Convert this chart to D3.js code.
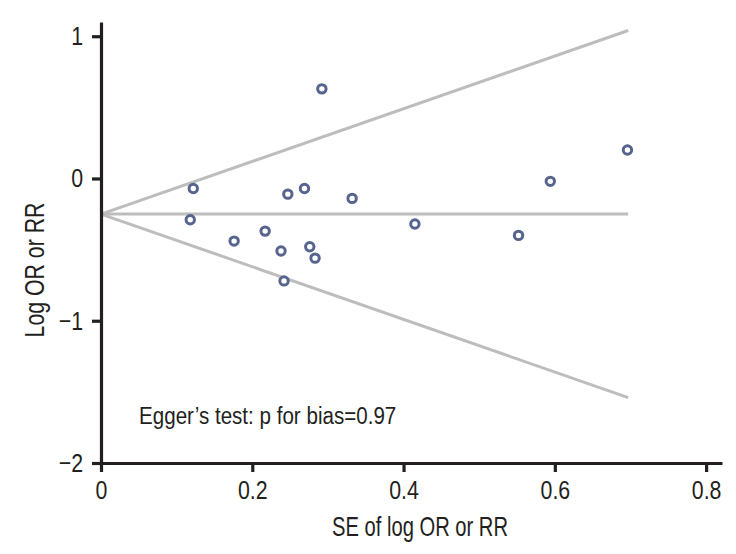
<!DOCTYPE html>
<html><head><meta charset="utf-8">
<script src="https://cdn.jsdelivr.net/npm/d3@7"></script>
<style>
body{margin:0;background:#fff;}
text{font-family:"Liberation Sans",Arial,sans-serif;fill:#231f20;}
</style></head>
<body>
<svg id="c" width="736" height="554"></svg>
<script>
// Study standard errors and effect sizes (log OR or RR)
const se =     [0.122, 0.118, 0.176, 0.217, 0.238, 0.242, 0.247, 0.269, 0.276, 0.283, 0.292, 0.332, 0.415, 0.552, 0.594, 0.696];
const logEff = [-0.07, -0.29, -0.44, -0.37, -0.51, -0.72, -0.11, -0.07, -0.48, -0.56, 0.63, -0.14, -0.32, -0.40, -0.02, 0.20];
// Funnel: pooled estimate and limits at the maximum SE
const pooled = -0.25;
const funnelSE = [0, 0.697];
const funnelUpper = [-0.25, 1.04];
const funnelLower = [-0.25, -1.54];
const xTicks = [0, 0.2, 0.4, 0.6, 0.8];
const yTicks = [-2, -1, 0, 1];
const xTitle = "SE of log OR or RR";
const yTitle = "Log OR or RR";
const note = "Egger\u2019s test: p for bias=0.97";

const svg = d3.select("#c");
const x = d3.scaleLinear().domain([0, 0.821]).range([101, 722]);
const y = d3.scaleLinear().domain([-2, 1.1]).range([463, 22]);

function condense(sel, k) {
  sel.each(function () {
    const w = this.getComputedTextLength();
    d3.select(this).attr("textLength", w * k).attr("lengthAdjust", "spacingAndGlyphs");
  });
}

// funnel lines
const line = d3.line().x(d => x(d[0])).y(d => y(d[1]));
const g = svg.append("g");
[funnelUpper, funnelLower, [pooled, pooled]].forEach(arr => {
  g.append("path").datum(funnelSE.map((s, i) => [s, arr[i]]))
    .attr("d", line).attr("fill", "none").attr("stroke", "#bdbdbd").attr("stroke-width", 3);
});

// axes
const xAxis = svg.append("g").attr("transform", `translate(0,${y(-2)})`)
  .call(d3.axisBottom(x).tickValues(xTicks).tickSize(9).tickSizeOuter(0).tickPadding(9)
    .tickFormat(d => d === 0 ? "0" : d3.format(".1f")(d)));
const yAxis = svg.append("g").attr("transform", `translate(${x(0)},0)`)
  .call(d3.axisLeft(y).tickValues(yTicks).tickSize(9).tickSizeOuter(0).tickPadding(9)
    .tickFormat(d3.format("d")));
[xAxis, yAxis].forEach(a => {
  a.select(".domain").attr("stroke", "#231f20").attr("stroke-width", 3.2);
  a.selectAll(".tick line").attr("stroke", "#231f20").attr("stroke-width", 3.2);
  a.selectAll(".tick text").style("font-size", "26px").attr("fill", "#231f20")
    .style("font-family", "'Liberation Sans',Arial,sans-serif");
  condense(a.selectAll(".tick text"), 0.82);
});

// points
svg.append("g").selectAll("circle").data(se.map((s, i) => [s, logEff[i]]))
  .join("circle").attr("cx", d => x(d[0])).attr("cy", d => y(d[1])).attr("r", 4.2)
  .attr("fill", "#fff").attr("stroke", "#56648e").attr("stroke-width", 3);

// titles
const xt = svg.append("text").attr("x", 420).attr("y", 536).attr("text-anchor", "middle")
  .style("font-size", "28px").text(xTitle);
condense(xt, 0.72);
const yt = svg.append("text").attr("transform", `translate(44,270) rotate(-90)`).attr("text-anchor", "middle")
  .style("font-size", "28px").text(yTitle);
condense(yt, 0.76);
const nt = svg.append("text").attr("x", 139).attr("y", 424).style("font-size", "23px").text(note);
condense(nt, 0.895);
</script>
</body></html>
